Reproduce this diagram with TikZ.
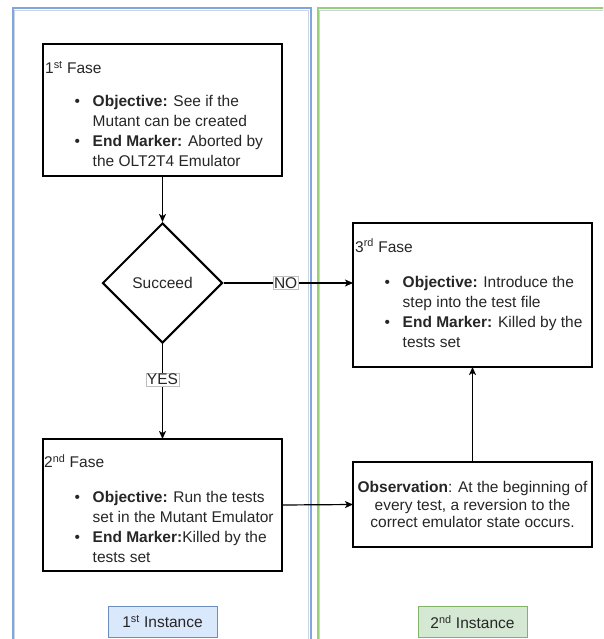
\documentclass[tikz,border=0pt]{standalone}
\usepackage{fontspec}
\setmainfont{Liberation Sans}
\usetikzlibrary{shapes.geometric,arrows.meta}

\definecolor{laneblue}{HTML}{7EA6E0}
\definecolor{lanegreen}{HTML}{97D077}
\definecolor{laneshade}{HTML}{CDD3DC}
\definecolor{tagbluefill}{HTML}{DAE8FC}
\definecolor{tagblueline}{HTML}{6C8EBF}
\definecolor{taggreenfill}{HTML}{D5E8D4}
\definecolor{taggreenline}{HTML}{82B366}
\definecolor{ink}{HTML}{262626}

% bullet list with a hanging indent, one tabular row per printed line
\newcommand\phaseitems[1]{\begin{tabular}[t]{@{}l@{\hspace{12.8pt}}l@{}}#1\end{tabular}}

\begin{document}
\begin{tikzpicture}[x=1pt,y=-1pt,
  every node/.style={font=\fontsize{15.5}{20}\selectfont, text=ink},
  phasebox/.style={draw=black, line width=1.2pt, minimum width=239pt,
    anchor=north west, inner sep=0pt, outer sep=0pt},
  textline/.style={anchor=base west, inner sep=0pt},
  decision/.style={diamond, draw=black, line width=2pt, minimum width=120pt,
    minimum height=120pt, inner sep=0pt, aspect=1},
  flow/.style={draw=black, line width=1.2pt, -{Stealth[length=8pt,width=7pt,inset=2pt]}},
  edgelabel/.style={fill=white, draw=black!25, line width=0.5pt, inner sep=0.8pt},
  instancetag/.style={minimum width=109pt, minimum height=31pt, line width=1pt, inner sep=0pt}
]
\clip (0,0) rectangle (603,639);

% swimlanes
\draw[laneblue, line width=2pt] (12.5,660) |- (310.5,8.5) -- (310.5,660);
\draw[laneshade, line width=1pt] (14.5,660) |- (308.5,10.5) -- (308.5,660);
\draw[lanegreen, line width=2pt] (317.5,660) |- (620,8.5);
\draw[laneshade, line width=1pt] (319.5,660) |- (620,10.5);

% 1st phase
\node[phasebox, minimum height=132pt] (f1) at (43,44) {};
\node[textline] (f1title) at (45,73.5) {1\textsuperscript{st} Fase};
\node[textline] (f1items) at (74.3,107) {\phaseitems{%
  \textbullet & \textbf{Objective:} See if the\\
              & Mutant can be created\\
  \textbullet & \textbf{End Marker:} Aborted by\\
              & the OLT2T4 Emulator}};

% decision
\node[decision] (dec) at (162.5,283) {Succeed};

% 2nd phase
\node[phasebox, minimum height=132pt] (f2) at (43,439) {};
\node[textline] (f2title) at (44,467.5) {2\textsuperscript{nd} Fase};
\node[textline] (f2items) at (74.3,502) {\phaseitems{%
  \textbullet & \textbf{Objective:} Run the tests\\
              & set in the Mutant Emulator\\
  \textbullet & \textbf{End Marker:}Killed by the\\
              & tests set}};

% 3rd phase
\node[phasebox, minimum height=144pt] (f3) at (353,223) {};
\node[textline] (f3title) at (355,252) {3\textsuperscript{rd} Fase};
\node[textline] (f3items) at (384.3,287) {\phaseitems{%
  \textbullet & \textbf{Objective:} Introduce the\\
              & step into the test file\\
  \textbullet & \textbf{End Marker:} Killed by the\\
              & tests set}};

% observation
\node[phasebox, minimum height=85pt] (obs) at (353,462) {};
\node[align=center, inner sep=0pt, font=\fontsize{15.5}{17.3}\selectfont] (obstext) at (obs.center)
  {\textbf{Observation}: At the beginning of\\every test, a reversion to the\\correct emulator state occurs.};

% connectors
\draw[flow] (f1.south -| dec.north) -- (dec.north);
\draw[flow] (dec.east) -- node[edgelabel, pos=0.48] (nolabel) {NO} (f3.west |- dec.east);
\draw[flow] (dec.south) -- node[edgelabel, pos=0.375] (yeslabel) {YES} (f2.north -| dec.south);
\draw[flow] (f2.east) -- (obs.west);
\draw[flow] (obs.north) -- (f3.south -| obs.north);

% lane captions
\node[instancetag, draw=tagblueline, fill=tagbluefill] (inst1) at (162.5,621.5) {1\textsuperscript{st} Instance};
\node[instancetag, draw=taggreenline, fill=taggreenfill] (inst2) at (472.5,622) {2\textsuperscript{nd} Instance};
\end{tikzpicture}
\end{document}
